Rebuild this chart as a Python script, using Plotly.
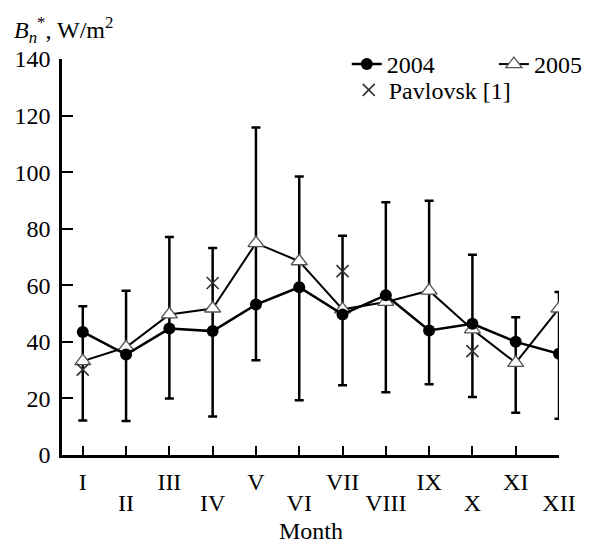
import plotly.graph_objects as go

months = list(range(1, 13))
month_labels = ["I", "II", "III", "IV", "V", "VI", "VII", "VIII", "IX", "X", "XI", "XII"]

b2004 = [43.5, 35.5, 44.7, 43.8, 53.2, 59.3, 49.7, 56.5, 44.0, 46.4, 40.0, 35.8]
b2005 = [33.2, 38.1, 49.7, 51.8, 74.9, 68.5, 51.5, 54.1, 58.1, 44.4, 32.6, 51.8]
err_top = [52.6, 58.1, 77.1, 73.2, 115.8, 98.5, 77.5, 89.4, 89.9, 70.8, 48.7, 57.6]
err_bottom = [12.2, 12.0, 20.0, 13.6, 33.5, 19.4, 24.7, 22.2, 25.0, 20.5, 14.9, 12.8]

pav_months = [1, 4, 7, 10]
pav_values = [30.2, 60.8, 65.0, 36.7]

FONT = "Liberation Serif, Times New Roman, serif"
FS = 24

err_plus = [t - v for t, v in zip(err_top, b2004)]
err_minus = [v - b for v, b in zip(b2004, err_bottom)]

fig = go.Figure()

# error bars (drawn first, below markers)
fig.add_trace(go.Scatter(
    x=months, y=b2004, mode="markers", showlegend=False, hoverinfo="skip",
    marker=dict(size=1, color="rgba(0,0,0,0)"),
    error_y=dict(type="data", symmetric=False, array=err_plus, arrayminus=err_minus,
                 color="black", thickness=2.5, width=4.5),
))

fig.add_trace(go.Scatter(
    x=months, y=b2005, mode="lines+markers", name="2005",
    line=dict(color="black", width=2),
    marker=dict(symbol="triangle-up", size=14, color="white",
                line=dict(color="#555555", width=1.3)),
    legend="legend3",
))

fig.add_trace(go.Scatter(
    x=months, y=b2004, mode="lines+markers", name="2004",
    line=dict(color="black", width=2.5),
    marker=dict(symbol="circle", size=12, color="black"),
    legend="legend",
))

fig.add_trace(go.Scatter(
    x=pav_months, y=pav_values, mode="markers", name="Pavlovsk [1]",
    marker=dict(symbol="x-thin-open", size=12, color="#333333",
                line=dict(color="#333333", width=1.6)),
    legend="legend2",
))

# invisible trace so the second-row label axis is drawn
fig.add_trace(go.Scatter(
    x=months, y=b2004, mode="markers", xaxis="x2", showlegend=False,
    hoverinfo="skip", marker=dict(size=1, color="rgba(0,0,0,0)"),
))

odd_text = [lab if i % 2 == 0 else "" for i, lab in enumerate(month_labels)]
even_vals = [m for i, m in enumerate(months) if i % 2 == 1]
even_text = [lab for i, lab in enumerate(month_labels) if i % 2 == 1]

leg_common = dict(xanchor="left", yanchor="top", bgcolor="rgba(0,0,0,0)",
                  font=dict(family=FONT, size=FS))

fig.update_layout(
    width=612, height=546,
    margin=dict(l=62, r=53, t=59, b=91, autoexpand=False),
    paper_bgcolor="white", plot_bgcolor="white",
    font=dict(family=FONT, size=FS, color="black"),
    xaxis=dict(
        range=[0.52, 12], tickmode="array", tickvals=months, ticktext=odd_text,
        ticks="inside", ticklen=9, tickwidth=2, tickcolor="black",
        showline=True, linecolor="black", linewidth=2.5,
        showgrid=False, zeroline=False, tickangle=0, ticklabelstandoff=3,
        automargin=False,
    ),
    xaxis2=dict(
        range=[0.52, 12], overlaying="x", side="bottom", anchor="y",
        tickmode="array", tickvals=even_vals, ticktext=even_text,
        ticks="", showline=False, showgrid=False, zeroline=False, tickangle=0,
        ticklabelstandoff=31, automargin=False,
    ),
    yaxis=dict(
        range=[0, 140], tickmode="array", tickvals=list(range(0, 141, 20)),
        ticks="inside", ticklen=11, tickwidth=2, tickcolor="black",
        showline=True, linecolor="black", linewidth=2.5,
        showgrid=False, zeroline=False, ticklabelstandoff=4, automargin=False,
    ),
    legend=dict(x=0.573, y=1.043, **leg_common),
    legend3=dict(x=0.869, y=1.043, **leg_common),
    legend2=dict(x=0.577, y=0.978, **leg_common),
    annotations=[
        dict(text="<i>B</i><sub><i>n</i></sub><sup>*</sup>, W/m<sup>2</sup>",
             xref="paper", yref="paper", x=-0.1, y=1.073, xanchor="left", yanchor="middle",
             showarrow=False, font=dict(family=FONT, size=FS)),
        dict(text="Month", xref="paper", yref="paper", x=0.5, y=-0.192,
             xanchor="center", yanchor="middle", showarrow=False,
             font=dict(family=FONT, size=FS)),
    ],
)

fig.write_html("out.html")
